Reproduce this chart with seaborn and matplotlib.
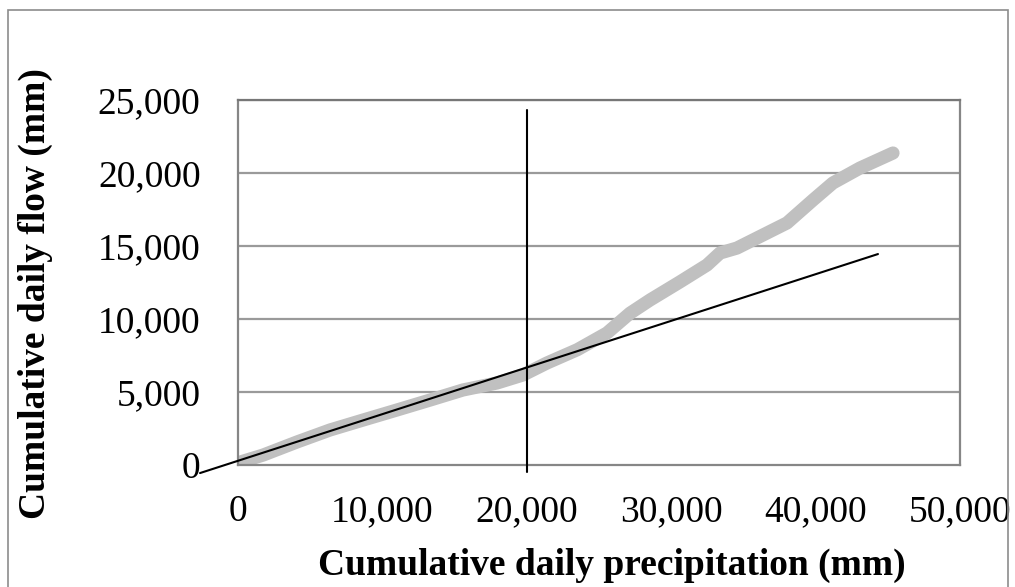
import numpy as np
import matplotlib
matplotlib.use("Agg")
import matplotlib.pyplot as plt
import pandas as pd
import seaborn as sns
from matplotlib.ticker import FuncFormatter
from matplotlib.patches import Rectangle

# cumulative precipitation vs cumulative flow
precip = [0, 140, 1730, 4090, 6370, 8660, 11010, 13300, 15580, 17940, 19740,
          21400, 23500, 25550, 27150, 28530, 30600, 32480, 33380, 34550,
          35660, 38020, 39820, 41200, 43070, 45360]
flow = [0, 200, 680, 1580, 2400, 3080, 3770, 4450, 5140, 5620, 6170,
        6990, 7900, 9040, 10400, 11300, 12540, 13700, 14520, 14860,
        15410, 16580, 18150, 19320, 20340, 21370]

# straight reference line and break point line
trend_x = [-2630, 44320]
trend_y = [-550, 14450]
break_x = [20000, 20000]
break_y = [-500, 24300]

x_ticks = [0, 10000, 20000, 30000, 40000, 50000]
y_ticks = [0, 5000, 10000, 15000, 20000, 25000]

df = pd.DataFrame({"precip": precip, "flow": flow})

sns.set_style("white")
plt.rcParams["font.family"] = ["Liberation Serif", "DejaVu Serif"]
plt.rcParams["text.color"] = "black"
plt.rcParams["axes.labelcolor"] = "black"
plt.rcParams["xtick.labelcolor"] = "black"
plt.rcParams["ytick.labelcolor"] = "black"

fig = plt.figure(figsize=(10.15, 5.87), dpi=100)
ax = fig.add_axes([0.2345, 0.2078, 0.7113, 0.6218])

grid_col = "#9a9a9a"
for v in y_ticks[1:]:
    ax.axhline(v, color=grid_col, lw=1.6, zorder=0)

sns.lineplot(data=df, x="precip", y="flow", ax=ax, color="#c0c0c0",
             lw=9.5, estimator=None, sort=False, solid_capstyle="round",
             zorder=2)
ax.plot(trend_x, trend_y, color="black", lw=1.5, clip_on=False, zorder=3)
ax.plot(break_x, break_y, color="black", lw=1.5, clip_on=False, zorder=3)

ax.set_xlim(0, 50000)
ax.set_ylim(0, 25000)
ax.set_xticks(x_ticks)
ax.set_yticks(y_ticks)
fmt = FuncFormatter(lambda v, p: f"{int(v):,}")
ax.xaxis.set_major_formatter(fmt)
ax.yaxis.set_major_formatter(fmt)

for side in ["left", "bottom", "right"]:
    ax.spines[side].set_color("#868686")
    ax.spines[side].set_linewidth(1.6)
ax.spines["top"].set_color("#777777")
ax.spines["top"].set_linewidth(1.6)

ax.tick_params(axis="both", which="major", direction="out", length=8,
               width=1.6, color="#868686", labelsize=27, labelcolor="black")
ax.tick_params(axis="y", pad=19)
ax.tick_params(axis="x", pad=13)

ax.set_xlabel("Cumulative daily precipitation (mm)", fontsize=27,
              fontweight="bold", va="center", color="black")
ax.set_ylabel("Cumulative daily flow (mm)", fontsize=27,
              fontweight="bold", va="center", color="black")
ax.xaxis.set_label_coords(0.518, -0.274)
ax.yaxis.set_label_coords(-0.281, 0.47)

fig.patches.append(Rectangle((0.008, -0.01), 0.985, 0.993,
                             transform=fig.transFigure, fill=False,
                             edgecolor="#8c8c8c", lw=1.2))

fig.savefig("out.png", dpi=100)
